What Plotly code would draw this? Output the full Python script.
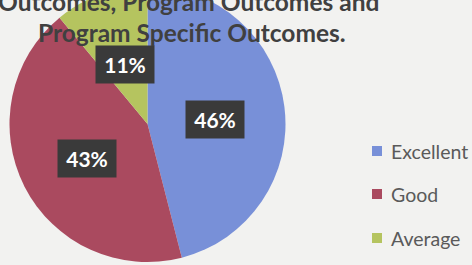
import math
import plotly.graph_objects as go

# ---- data ----
categories = ["Excellent", "Good", "Average"]
percentages = [46, 43, 11]
title_lines = ["Outcomes, Program Outcomes and", "Program Specific Outcomes."]

colors = ["#7890D8", "#AA4A5F", "#B5C45F"]
BG = "#F2F2F0"

W, H = 472, 300          # figure size (top SHIFT px scrolled out of view, as in the cropped photo)
SHIFT = 35

def px(x):
    return x / W

def py(y_screen):
    return 1 - (y_screen + SHIFT) / H

# pie geometry (screen pixels)
CX, CY, R = 147.5, 124, 138

fig = go.Figure()
fig.add_trace(go.Pie(
    labels=categories,
    values=percentages,
    sort=False,
    direction="clockwise",
    rotation=0,
    marker=dict(colors=colors, line=dict(width=0)),
    textinfo="none",
    hoverinfo="label+percent",
    showlegend=False,
    domain=dict(x=[px(CX - R), px(CX + R)], y=[py(CY + R), py(CY - R)]),
))

annotations = []
# data labels in dark boxes, positioned on each slice's mid-angle
total = sum(percentages)
cum = 0
for cat, v in zip(categories, percentages):
    mid = (cum + v / 2) / total * 2 * math.pi
    cum += v
    lx = CX + 0.49 * R * math.sin(mid)
    ly = CY - 0.49 * R * math.cos(mid) + 4
    annotations.append(dict(
        x=px(lx), y=py(ly), xref="paper", yref="paper",
        text=f"{round(v / total * 100)}%", showarrow=False,
        font=dict(family="Lato", size=21, color="white", weight="bold"),
        bgcolor="#3A3A3A", width=58, height=37, borderpad=0,
        xanchor="center", yanchor="middle",
    ))

# title (top of it cropped, as in the reference)
annotations.append(dict(
    x=px(381), y=py(1), xref="paper", yref="paper", text=f"<b>{title_lines[0]}</b>",
    showarrow=False, xanchor="right", yanchor="middle",
    font=dict(family="Lato", size=24.5, color="#404040"),
))
annotations.append(dict(
    x=px(192), y=py(32), xref="paper", yref="paper", text=f"<b>{title_lines[1]}</b>",
    showarrow=False, xanchor="center", yanchor="middle",
    font=dict(family="Lato", size=24.5, color="#404040"),
))

# legend
shapes = []
legend_y = [151, 194, 238]
for cat, col, ly in zip(categories, colors, legend_y):
    shapes.append(dict(type="rect", xref="paper", yref="paper",
                       x0=px(372), x1=px(382), y0=py(ly + 5), y1=py(ly - 5),
                       fillcolor=col, line=dict(width=0)))
    annotations.append(dict(
        x=px(389), y=py(ly), xref="paper", yref="paper", text=cat,
        showarrow=False, xanchor="left", yanchor="middle",
        font=dict(family="Lato", size=19.5, color="#5A5A5A"),
    ))

fig.update_layout(
    width=W, height=H,
    margin=dict(l=0, r=0, t=0, b=0),
    paper_bgcolor=BG, plot_bgcolor=BG,
    annotations=annotations, shapes=shapes,
)

post = ("document.body.style.margin='0';document.body.style.overflow='hidden';"
        "var d=document.getElementById('{plot_id}');d.style.marginTop='-%dpx';" % SHIFT)
fig.write_html("out.html", post_script=post)
